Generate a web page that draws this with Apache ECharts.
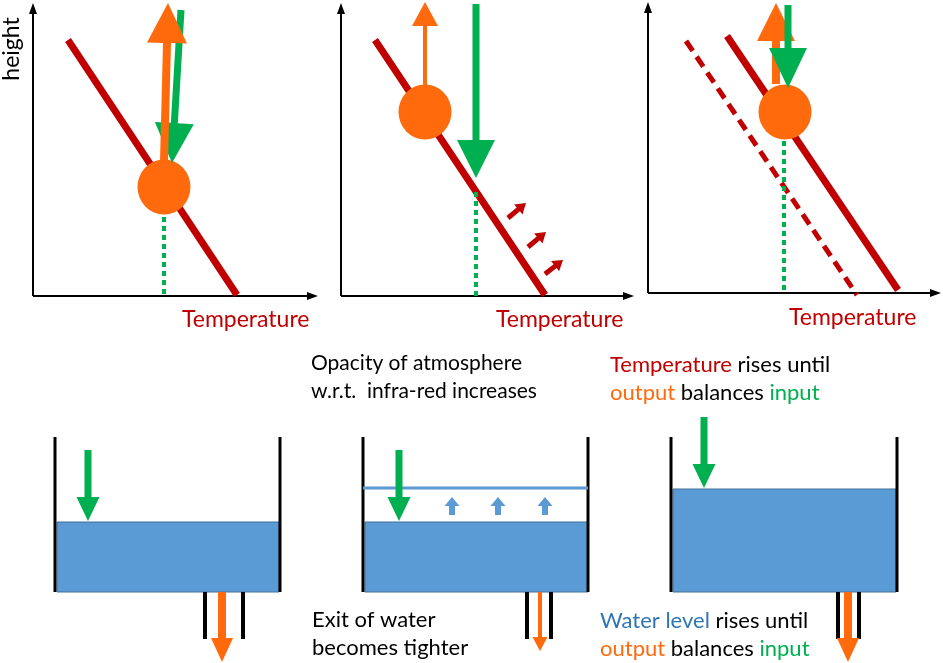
<!DOCTYPE html>
<html><head><meta charset="utf-8">
<script src="https://cdn.jsdelivr.net/npm/echarts@6/dist/echarts.min.js"></script>
<style>html,body{margin:0;padding:0;background:#fff}#c{width:943px;height:663px}</style>
</head><body><div id="c"></div>
<script>
// ---------- Diagram data (diagram units on a 943 x 663 scale) ----------
// Top panels: axes drawn as arrows [x1, y1, x2, y2]
const axisArrows = [
  [33, 296, 33, 3], [33, 296, 318, 296],
  [341, 296, 341, 3], [341, 296, 634, 296],
  [648, 293, 648, 2], [648, 293, 941, 293]
];
// Temperature profiles [x1, y1, x2, y2]
const profileSolid = [[68, 40, 237, 295], [375, 40, 545, 295], [727, 36, 898, 290]];
const profileDashed = [[686, 41, 857, 295]];
// Dotted drop lines [x1, y1, x2, y2]
const dropLines = [[164, 217, 164, 294], [476, 192, 476, 296], [784, 141, 784, 290]];
// Emitting level (orange disc) centres [x, y]
const discs = [[164, 187], [425, 112], [785, 112]];
// Arrows [x1, y1, x2(tip), y2(tip)]
const outputArrowsTop = [[164, 162, 168, 3], [425, 88, 425, 2], [776, 84, 776, 3]];
const inputArrowsTop = [[181, 10, 172, 163], [476, 4, 476, 178], [788, 5, 788, 88]];
const warmingArrows = [[508, 218, 526, 203], [528, 247, 546, 232], [545, 274, 563, 260]];
// Bottom tanks
const tankWalls = [[55, 437, 55, 592], [280, 437, 280, 592], [363, 437, 363, 592], [588, 437, 588, 592], [671, 437, 671, 592], [897, 437, 897, 592]];
const pipes = [[205, 592, 205, 639], [243, 592, 243, 639], [527, 592, 527, 639], [551, 592, 551, 639], [838, 592, 838, 639], [859, 592, 859, 639]];
const waterBodies = [[57, 522, 279, 592], [365, 522, 588, 592], [673, 489, 896, 592]];
const newLevelLine = [[363, 488, 588, 488]];
const inflowArrows = [[88, 450, 88, 521], [399, 450, 399, 521], [704, 417, 704, 488]];
const outflowArrows = [[222, 592, 222, 662], [540, 592, 540, 651], [848, 592, 848, 662]];
const levelArrows = [[452, 515, 452, 497], [498, 515, 498, 497], [545, 515, 545, 497]];

// ---------- Styles ----------
const C = { red: '#C00000', orange: '#FF6A0D', green: '#00B050', water: '#5B9BD5', waterEdge: '#41719C', text: '#000', blueText: '#2E75B6' };
const axisSize = [2, 8, 11];           // shaft, head width, head length
const outTopSizes = [[8, 40, 40], [4, 26, 24], [8, 38, 38]];
const inTopSizes = [[7, 39, 40], [7, 38, 38], [7, 38, 40]];
const warmSize = [5, 13, 10];
const inflowSize = [7, 23, 24];
const outflowSizes = [[8, 22, 24], [4, 15, 14], [8, 22, 24]];
const levelSize = [6, 15, 9];

function arrowPoly(p1, p2, s) {
  const dx = p2[0] - p1[0], dy = p2[1] - p1[1];
  const L = Math.sqrt(dx * dx + dy * dy) || 1;
  const ux = dx / L, uy = dy / L, nx = -uy, ny = ux;
  const bx = p2[0] - ux * s[2], by = p2[1] - uy * s[2];
  const a = s[0] / 2, h = s[1] / 2;
  return [
    [p1[0] + nx * a, p1[1] + ny * a], [bx + nx * a, by + ny * a], [bx + nx * h, by + ny * h],
    [p2[0], p2[1]],
    [bx - nx * h, by - ny * h], [bx - nx * a, by - ny * a], [p1[0] - nx * a, p1[1] - ny * a]
  ];
}
function arrowSeries(data, color, sizeFn, z) {
  return {
    type: 'custom', coordinateSystem: 'cartesian2d', z: z || 5, silent: true,
    data: data,
    renderItem: function (params, api) {
      const p1 = api.coord([api.value(0), api.value(1)]);
      const p2 = api.coord([api.value(2), api.value(3)]);
      return { type: 'polygon', shape: { points: arrowPoly(p1, p2, sizeFn(params.dataIndex)) }, style: { fill: color } };
    }
  };
}
function segSeries(data, style, z) {
  return {
    type: 'custom', coordinateSystem: 'cartesian2d', z: z || 3, silent: true,
    data: data,
    renderItem: function (params, api) {
      const p1 = api.coord([api.value(0), api.value(1)]);
      const p2 = api.coord([api.value(2), api.value(3)]);
      return { type: 'line', shape: { x1: p1[0], y1: p1[1], x2: p2[0], y2: p2[1] }, style: Object.assign({ fill: null }, style) };
    }
  };
}
function rectSeries(data, style, z) {
  return {
    type: 'custom', coordinateSystem: 'cartesian2d', z: z || 2, silent: true,
    data: data,
    renderItem: function (params, api) {
      const p1 = api.coord([api.value(0), api.value(1)]);
      const p2 = api.coord([api.value(2), api.value(3)]);
      return { type: 'rect', shape: { x: Math.min(p1[0], p2[0]), y: Math.min(p1[1], p2[1]), width: Math.abs(p2[0] - p1[0]), height: Math.abs(p2[1] - p1[1]) }, style: style };
    }
  };
}

const FONT = 'Lato, "Open Sans", sans-serif';
const FS = 22;
function txt(x, y, text, rich, size) {
  return {
    type: 'text', x: x, y: y,
    style: { text: text, fontFamily: FONT, fontSize: size || FS, fill: C.text, verticalAlign: 'middle', align: 'left', rich: rich || {} }
  };
}
const richCols = {
  r: { fill: C.red, fontFamily: FONT, fontSize: FS },
  o: { fill: C.orange, fontFamily: FONT, fontSize: FS },
  g: { fill: C.green, fontFamily: FONT, fontSize: FS },
  b: { fill: C.blueText, fontFamily: FONT, fontSize: FS }
};
function tempLabel(x, y) {
  return { type: 'text', x: x, y: y, style: { text: 'Temperature', fontFamily: FONT, fontSize: 23, fill: C.red, verticalAlign: 'middle', align: 'left' } };
}

const chart = echarts.init(document.getElementById('c'), null, { renderer: 'canvas' });
chart.setOption({
  backgroundColor: '#ffffff',
  animation: false,
  grid: { left: 0, right: 0, top: 0, bottom: 0, containLabel: false },
  xAxis: { type: 'value', min: 0, max: 943, show: false },
  yAxis: { type: 'value', min: 0, max: 663, inverse: true, show: false },
  series: [
    arrowSeries(axisArrows, '#000', () => axisSize, 2),
    segSeries(profileSolid, { stroke: C.red, lineWidth: 7 }, 3),
    segSeries(profileDashed, { stroke: C.red, lineWidth: 5, lineDash: [12, 7] }, 3),
    segSeries(dropLines, { stroke: C.green, lineWidth: 4, lineDash: [5, 4] }, 3),
    {
      type: 'scatter', z: 4, silent: true, data: discs, symbol: 'circle', symbolSize: [53, 55],
      itemStyle: { color: C.orange, opacity: 1 }
    },
    arrowSeries(inputArrowsTop.slice(0, 2), C.green, i => inTopSizes[i], 5),
    arrowSeries(outputArrowsTop, C.orange, i => outTopSizes[i], 6),
    arrowSeries(inputArrowsTop.slice(2), C.green, i => inTopSizes[2], 7),
    arrowSeries(warmingArrows, C.red, () => warmSize, 5),
    rectSeries(waterBodies, { fill: C.water, stroke: C.waterEdge, lineWidth: 1 }, 2),
    segSeries(tankWalls, { stroke: '#000', lineWidth: 3 }, 3),
    segSeries(pipes, { stroke: '#000', lineWidth: 4 }, 3),
    segSeries(newLevelLine, { stroke: C.water, lineWidth: 3 }, 3),
    arrowSeries(inflowArrows, C.green, () => inflowSize, 5),
    arrowSeries(outflowArrows, C.orange, i => outflowSizes[i], 5),
    arrowSeries(levelArrows, C.water, () => levelSize, 5)
  ],
  graphic: [
    { type: 'text', x: 12, y: 49, rotation: Math.PI / 2,
      style: { text: 'height', fontFamily: FONT, fontSize: 23, fill: C.text, align: 'center', verticalAlign: 'middle' } },
    tempLabel(182, 320),
    tempLabel(496, 320),
    tempLabel(789, 318),
    txt(311, 363, 'Opacity of atmosphere', null, 21),
    txt(311, 391, 'w.r.t.  infra-red increases', null, 21),
    txt(610, 365, '{r|Temperature} rises until', richCols),
    txt(610, 393, '{o|output} balances {g|input}', richCols),
    txt(312, 620, 'Exit of water'),
    txt(312, 648, 'becomes tighter'),
    txt(600, 621, '{b|Water level} rises until', richCols),
    txt(600, 649, '{o|output} balances {g|input}', richCols)
  ]
});
</script>
</body></html>
